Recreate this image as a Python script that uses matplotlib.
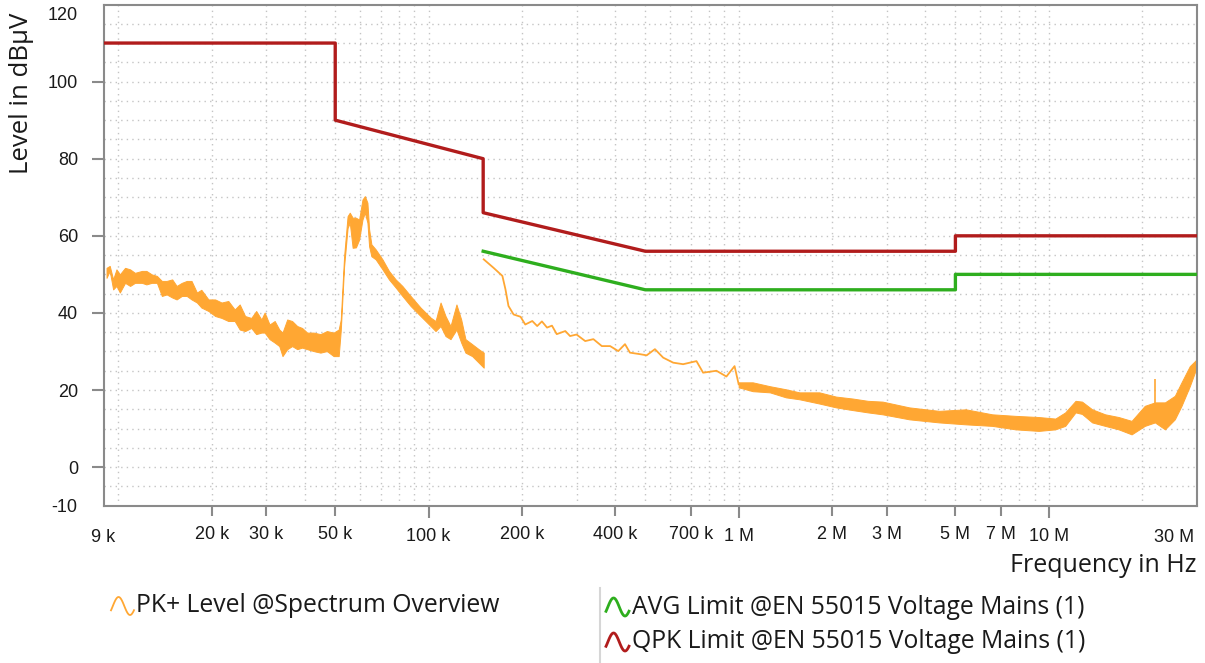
import numpy as np
import matplotlib
matplotlib.use("Agg")
import matplotlib.pyplot as plt
from matplotlib.lines import Line2D

plt.rcParams['font.family'] = ['Liberation Sans', 'DejaVu Sans']

# --- data ------------------------------------------------------------------
# PK+ trace, part 1 (9 kHz .. 150 kHz): noisy band, upper / lower edge in dBuV
seg1_freq_khz = [9.15, 9.37, 9.61, 9.85, 10.1, 10.5, 10.9, 11.3, 11.9, 12.3, 12.8, 13.3,
                 13.8, 14.3, 14.9, 15.4, 16.0, 16.6, 17.2, 17.9, 18.5, 19.5, 20.5, 21.5,
                 22.6, 23.7, 24.6, 25.6, 26.8, 27.8, 28.9, 29.6, 30.7, 31.9, 33.0, 33.8,
                 35.0, 36.3, 37.7, 39.1, 40.6, 42.6, 44.8, 47.0, 49.4, 51.3,
                 52.1, 53.4, 54.8, 55.7, 56.9, 58.3, 59.7, 61.2, 62.3, 63.5, 64.3, 65.4,
                 67.5, 71.0, 74.5, 78.3, 82.3, 87.5, 94.2, 101.5, 105.3, 109.3, 113.4,
                 117.7, 123.0, 127.4, 131.5, 138.2, 145.1, 150.6]
seg1_hi = [51.7, 52.2, 48.7, 51.3, 50.0, 51.7, 51.3, 50.4, 50.9, 50.9, 50.0, 49.6,
           48.3, 48.3, 48.7, 47.0, 47.8, 48.3, 48.3, 45.3, 46.0, 43.5, 43.5, 42.7,
           43.1, 40.9, 42.2, 39.2, 38.7, 40.5, 38.3, 40.1, 37.0, 37.9, 35.7, 34.9,
           38.3, 37.9, 36.6, 36.1, 34.9, 34.9, 34.5, 35.3, 34.9, 35.7,
           38.3, 54.7, 65.1, 66.0, 64.7, 64.7, 64.2, 69.4, 70.3, 68.6, 61.7, 57.8,
           56.5, 53.9, 50.9, 48.7, 47.0, 44.4, 41.4, 38.8, 37.9, 42.7, 39.2,
           36.6, 42.2, 38.3, 33.2, 31.9, 30.6, 29.7]
seg1_lo = [49.1, 50.9, 46.1, 47.0, 45.3, 47.8, 47.0, 47.8, 47.8, 47.4, 47.8, 47.8,
           44.4, 44.8, 44.0, 43.5, 44.4, 44.4, 43.5, 42.7, 41.4, 40.5, 39.2, 38.7,
           37.9, 37.9, 35.7, 35.3, 36.1, 34.5, 34.9, 34.9, 33.2, 32.3, 31.4, 28.8,
           30.6, 31.4, 30.6, 31.0, 30.6, 30.1, 29.7, 30.1, 28.8, 28.8,
           35.5, 52.0, 62.0, 63.4, 56.9, 57.0, 59.0, 64.2, 66.0, 63.4, 57.3, 54.7,
           53.9, 51.3, 48.7, 46.6, 44.4, 41.8, 39.2, 36.6, 35.3, 36.6, 34.0,
           33.2, 35.7, 32.3, 29.7, 28.8, 27.1, 25.8]

# PK+ trace, part 2 (150 kHz .. 1 MHz): thin line
seg2_freq_khz = [150.6, 162, 173, 177, 181, 188, 198, 205, 216, 224, 232, 241, 250,
                 259, 276, 286, 300, 320, 340, 362, 385, 409, 430, 446, 481, 505,
                 537, 571, 615, 662, 731, 768, 848, 913, 970, 1000]
seg2_level = [53.9, 51.7, 49.6, 46.1, 41.8, 39.6, 39.0, 37.0, 37.9, 36.6, 37.8, 36.2,
              36.7, 34.5, 35.3, 34.0, 34.4, 32.7, 33.2, 31.4, 31.4, 30.1, 31.9, 29.7,
              29.3, 29.0, 30.6, 28.4, 27.1, 26.7, 27.5, 24.5, 25.0, 23.5, 26.2, 21.5]

# PK+ trace, part 3 (1 MHz .. 30 MHz): noisy band
seg3_freq_mhz = [1.0, 1.11, 1.26, 1.42, 1.57, 1.82, 2.06, 2.33, 2.61, 2.91, 3.55, 4.43,
                 5.40, 6.57, 7.81, 9.28, 10.5, 11.3, 12.2, 12.8, 13.8, 15.2, 16.8, 18.5,
                 20.4, 22.0, 23.7, 25.5, 26.8, 28.5, 29.6, 30.0]
seg3_hi = [22.0, 22.0, 21.0, 20.2, 19.4, 19.4, 18.3, 17.8, 17.2, 17.0, 15.5, 14.6,
           15.0, 13.7, 13.3, 13.0, 12.6, 14.2, 17.2, 17.0, 15.0, 13.7, 13.0, 12.0,
           15.9, 16.8, 16.8, 18.5, 22.0, 26.2, 27.5, 28.0]
seg3_lo = [20.7, 19.7, 19.4, 18.1, 17.6, 16.5, 15.5, 14.8, 14.2, 13.7, 12.4, 11.6,
           11.1, 10.7, 9.8, 9.4, 9.8, 10.7, 14.2, 13.8, 11.6, 10.7, 9.8, 8.5,
           10.7, 11.6, 9.8, 12.4, 15.9, 21.0, 24.6, 25.5]
spike_freq_mhz = [22.0]
spike_level = [22.8]

# EN 55015 limits
qpk_freq_khz = [9, 50, 50, 150, 150, 500, 5000, 5000, 30000]
qpk_level = [110, 110, 90, 80, 66, 56, 56, 60, 60]
avg_freq_khz = [150, 500, 5000, 5000, 30000]
avg_level = [56, 46, 46, 50, 50]

x_major = [1e5, 1e6, 1e7]
x_major_labels = ['100 k', '1 M', '10 M']
x_minor = [2e4, 3e4, 5e4, 2e5, 4e5, 7e5, 2e6, 3e6, 5e6, 7e6]
x_minor_labels = ['20 k', '30 k', '50 k', '200 k', '400 k', '700 k',
                  '2 M', '3 M', '5 M', '7 M']
y_ticks = [0, 20, 40, 60, 80, 100]

legend_names = ['PK+ Level @Spectrum Overview',
                'AVG Limit @EN 55015 Voltage Mains (1)',
                'QPK Limit @EN 55015 Voltage Mains (1)']

ORANGE = '#ffa733'
GREEN = '#2eae1e'
RED = '#b11c1c'
GRID = '#c4c4c4'
SPINE = '#8a8a8a'
TXT = '#1a1a1a'

# --- figure -----------------------------------------------------------------
W, H = 1205, 663
fig = plt.figure(figsize=(W / 100, H / 100), dpi=100)
ax = fig.add_axes([104.3 / W, 1 - 505.7 / H, (1196.7 - 104.3) / W, (505.7 - 4.5) / H])
ax.set_xscale('log')
ax.set_xlim(9e3, 30e6)
ax.set_ylim(-10, 120)

# dotted grid
grid_x = [m * 10 ** e for e in range(3, 8) for m in range(1, 10) if 9e3 < m * 10 ** e < 30e6]
ax.vlines(grid_x, -10, 120, colors=GRID, linestyles=(0, (1, 3)), lw=1, zorder=0)
ax.hlines(np.arange(-5, 120, 5), 9e3, 30e6, colors=GRID, linestyles=(0, (1, 3)), lw=1, zorder=0)

# spectrum trace
f1 = np.array(seg1_freq_khz) * 1e3
ax.fill_between(f1, seg1_lo, seg1_hi, color=ORANGE, lw=0.7, zorder=2)
ax.plot(np.array(seg2_freq_khz) * 1e3, seg2_level, color=ORANGE, lw=1.3, zorder=2)
f3 = np.array(seg3_freq_mhz) * 1e6
ax.fill_between(f3, seg3_lo, seg3_hi, color=ORANGE, lw=0.7, zorder=2)
ax.vlines(np.array(spike_freq_mhz) * 1e6, 14, spike_level, colors=ORANGE, lw=1.2, zorder=2)

# limit lines
ax.plot(np.array(avg_freq_khz) * 1e3, avg_level, color=GREEN, lw=2.4, zorder=3)
ax.plot(np.array(qpk_freq_khz) * 1e3, qpk_level, color=RED, lw=2.4, zorder=3)

for s in ax.spines.values():
    s.set_color(SPINE)
    s.set_linewidth(1.5)

ax.set_xticks(x_major)
ax.set_xticklabels(x_major_labels)
ax.set_xticks(x_minor, minor=True)
ax.set_xticklabels(x_minor_labels, minor=True)
ax.set_yticks(y_ticks)
ax.tick_params(axis='x', which='major', length=8.4, width=1.5, color=SPINE, pad=8,
               labelsize=13, labelcolor=TXT)
ax.tick_params(axis='x', which='minor', length=7.0, width=1.5, color=SPINE, pad=7.4,
               labelsize=13, labelcolor=TXT)
ax.tick_params(axis='y', which='major', length=8.6, width=1.5, color=SPINE, pad=10.3,
               labelsize=13, labelcolor=TXT)
ax.tick_params(axis='y', which='minor', left=False)

# edge labels without tick marks
fig.text(77.5 / W, 1 - 15 / H, '120', ha='right', va='center', fontsize=13, color=TXT)
fig.text(77.5 / W, 1 - 508 / H, '-10', ha='right', va='center', fontsize=13, color=TXT)
fig.text(103.3 / W, 1 - 538 / H, '9 k', ha='center', va='center', fontsize=13, color=TXT)
fig.text(1194 / W, 1 - 538 / H, '30 M', ha='right', va='center', fontsize=13, color=TXT)

# axis titles
fig.text(22 / W, 1 - 13 / H, 'Level in dBµV', rotation=90, ha='center', va='top',
         fontsize=18.5, family=['Open Sans', 'DejaVu Sans'], color=TXT)
fig.text(1196 / W, 1 - 565 / H, 'Frequency in Hz', ha='right', va='center',
         fontsize=18, family=['Open Sans', 'DejaVu Sans'], color=TXT)


# legend below the plot
def sine_icon(x0, x1, yc, color, lw):
    th = np.linspace(-0.5, 5.8, 60)
    xs = x0 + (x1 - x0) * (th - th[0]) / (th[-1] - th[0])
    ys = yc - 9 * np.sin(th)
    fig.add_artist(Line2D(xs / W, 1 - ys / H, color=color, lw=lw,
                          transform=fig.transFigure))


legend_rows = [(111, 606, ORANGE, 1.3), (606, 607, GREEN, 2.0), (606, 642, RED, 2.0)]
for (x0, yc, col, lw), name in zip(legend_rows, legend_names):
    sine_icon(x0, x0 + 23, yc, col, lw)
    fig.text((x0 + 25.5) / W, 1 - yc / H, name, ha='left', va='center', fontsize=17.8,
             family=['Open Sans', 'DejaVu Sans'], color=TXT)

fig.add_artist(Line2D([600 / W, 600 / W], [1 - 588 / H, 1 - 662 / H], color='#d6d6d6',
                      lw=1.5, transform=fig.transFigure))

fig.savefig('out.png', dpi=100)
